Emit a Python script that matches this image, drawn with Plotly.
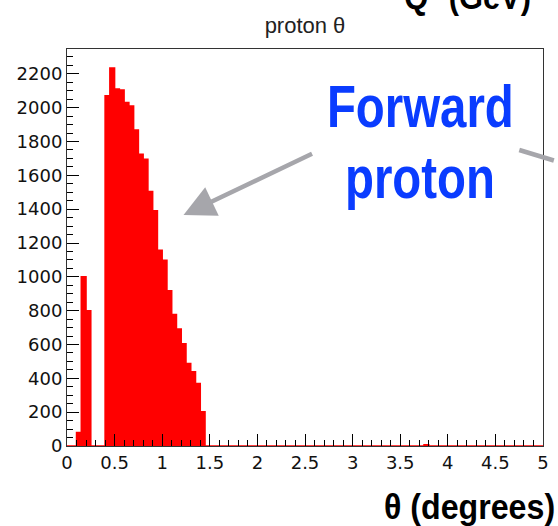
import plotly.graph_objects as go

# ---- data (histogram of proton theta, 0.05-degree bins) ----
bin_width = 0.05
n_bins = 100
bin_low = [0.10, 0.15, 0.20,
           0.40, 0.45, 0.50, 0.55, 0.60, 0.65, 0.70, 0.75, 0.80, 0.85,
           0.90, 0.95, 1.00, 1.05, 1.10, 1.15, 1.20, 1.25, 1.30, 1.35, 1.40,
           3.75]
counts = [80, 1000, 800,
          2070, 2235, 2110, 2105, 2030, 2010, 1868, 1725, 1695, 1505,
          1390, 1157, 1098, 917, 777, 691, 604, 488, 439, 370, 203,
          8]
title_text = "proton θ"
x_title = "θ (degrees)"
neighbor_title = "Q<sup>2</sup> (GeV)"
callout = ["Forward", "proton"]

# full histogram
full = [0] * n_bins
for lo, c in zip(bin_low, counts):
    full[int(round(lo / bin_width))] = c
edges = [i * bin_width for i in range(n_bins + 1)]
centers = [(edges[i] + edges[i + 1]) / 2 for i in range(n_bins)]
ymax = max(counts) * 1.05

RED = "#ff0000"
BLUE = "#0a3cff"
GRAY = "#a6a6ab"
BOLDF = "Liberation Sans, Arial, Helvetica, sans-serif"
TICKF = dict(family="DejaVu Sans, sans-serif", size=18, color="#111111")

fig = go.Figure()
fig.add_trace(go.Bar(x=centers, y=full, width=bin_width,
                     marker=dict(color=RED, line=dict(width=0)),
                     hoverinfo="x+y", showlegend=False))
fig.add_trace(go.Scatter(x=edges, y=full + [full[-1]], mode="lines",
                         line=dict(color=RED, width=1.5, shape="hv"),
                         hoverinfo="skip", showlegend=False))

fig.update_layout(
    width=558, height=526,
    margin=dict(l=67, r=9, t=49, b=80),
    paper_bgcolor="white", plot_bgcolor="white",
    bargap=0,
    title=dict(text=title_text, x=0.5, xref="paper", xanchor="center",
               y=1 - 25 / 526, yanchor="middle",
               font=dict(family="Liberation Sans, Arial, sans-serif", size=22,
                         color="#222222")),
    xaxis=dict(range=[0, 5], dtick=0.5, tick0=0, ticks="inside", ticklen=12,
               tickwidth=1, tickcolor="black", showgrid=False, zeroline=False,
               showline=True, linecolor="#333333", linewidth=1, mirror=True,
               tickfont=TICKF,
               minor=dict(dtick=0.1, ticks="inside", ticklen=6, tickcolor="black",
                          showgrid=False)),
    yaxis=dict(range=[0, ymax], dtick=200, tick0=0, ticks="inside", ticklen=12,
               tickwidth=1, tickcolor="black", showgrid=False, zeroline=False,
               showline=True, linecolor="#333333", linewidth=1, mirror=True,
               tickfont=TICKF,
               minor=dict(dtick=50, ticks="inside", ticklen=6, tickcolor="black",
                          showgrid=False)),
)

def px(X):
    return (X - 67) / 482

def py(Y):
    return (446 - Y) / 397

# x-axis title (bottom right, bold condensed)
fig.add_annotation(text="<b>" + x_title + "</b>", xref="paper", yref="paper",
                   x=px(563), y=py(506), xanchor="right", yanchor="middle",
                   showarrow=False,
                   font=dict(family=BOLDF, size=35, color="black"))
# neighbouring panel title, cut at top
fig.add_annotation(text="<b>" + neighbor_title + "</b>", xref="paper", yref="paper",
                   x=px(539), y=py(-6), xanchor="right", yanchor="middle",
                   showarrow=False,
                   font=dict(family=BOLDF, size=35, color="black"))
# callout text
fig.add_annotation(text="<b>" + callout[0] + "</b>", xref="paper", yref="paper",
                   x=px(425), y=py(106), xanchor="center", yanchor="middle",
                   showarrow=False, font=dict(family=BOLDF, size=60, color=BLUE))
fig.add_annotation(text="<b>" + callout[1] + "</b>", xref="paper", yref="paper",
                   x=px(424), y=py(178), xanchor="center", yanchor="middle",
                   showarrow=False, font=dict(family=BOLDF, size=60, color=BLUE))
# arrow
fig.add_annotation(text="", xref="paper", yref="paper",
                   x=px(185), y=py(215), axref="pixel", ayref="pixel",
                   ax=315 - 185, ay=153 - 215,
                   showarrow=True, arrowhead=2, arrowsize=1.4, arrowwidth=4.5,
                   arrowcolor=GRAY)
# part of another arrow leaving to the right
fig.add_shape(type="line", xref="paper", yref="paper",
              x0=px(525), y0=py(150), x1=px(560), y1=py(160.5),
              line=dict(color=GRAY, width=4.5))

# condensed look for the bold labels (horizontal squeeze of the real text)
post = """
var gd = document.getElementById('{plot_id}');
function squeeze() {
  gd.querySelectorAll('.annotation-text').forEach(function(t) {
    var s = t.textContent || '';
    var k = null, o = 'center';
    if (s === 'Forward' || s === 'proton') { k = 0.79; o = 'center'; }
    else if (s.indexOf('degrees') >= 0) { k = 0.92; o = 'right'; }
    else if (s.indexOf('GeV') >= 0) { k = 0.88; o = 'right'; }
    if (k !== null) {
      t.style.transformBox = 'fill-box';
      t.style.transformOrigin = (o === 'right' ? '100% 50%' : '50% 50%');
      t.style.transform = 'scaleX(' + k + ')';
    }
  });
}
squeeze();
gd.on('plotly_afterplot', squeeze);
"""

fig.write_html("out.html", post_script=post)
